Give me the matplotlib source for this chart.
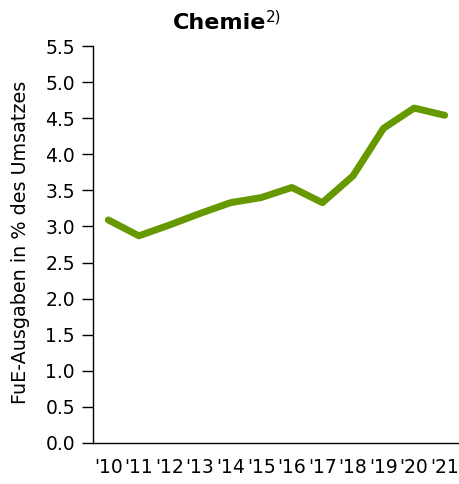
import matplotlib
matplotlib.use("Agg")
import matplotlib.pyplot as plt

years = ["'10", "'11", "'12", "'13", "'14", "'15", "'16", "'17", "'18", "'19", "'20", "'21"]
values = [3.09, 2.87, 3.02, 3.18, 3.33, 3.40, 3.54, 3.33, 3.70, 4.36, 4.64, 4.54]
yticks = [0.0, 0.5, 1.0, 1.5, 2.0, 2.5, 3.0, 3.5, 4.0, 4.5, 5.0, 5.5]

plt.rcParams['font.family'] = ['DejaVu Sans']

fig = plt.figure(figsize=(4.6, 4.84), dpi=100)
ax = fig.add_axes([93/460, 41/484, 367/460, 397/484])

x = list(range(len(years)))
ax.plot(x, values, color='#669900', linewidth=5, solid_capstyle='round', solid_joinstyle='round')

ax.set_xlim(-0.5, len(years) - 0.5)
ax.set_ylim(0, 5.5)
ax.set_yticks(yticks)
ax.set_yticklabels([f"{v:.1f}" for v in yticks], fontsize=13.5)
ax.set_xticks(x)
ax.set_xticklabels(years, fontsize=13.5)
ax.tick_params(axis='x', length=0, pad=11)
ax.tick_params(axis='y', length=8, width=1, pad=5)
for s in ['top', 'right']:
    ax.spines[s].set_visible(False)
for s in ['left', 'bottom']:
    ax.spines[s].set_linewidth(1)
ax.set_ylabel("FuE-Ausgaben in % des Umsatzes", fontsize=13.8)
ax.yaxis.label.set_verticalalignment('center')
ax.yaxis.set_label_coords((21 - 93) / 367, (484 - 242.5 - 41) / 397)

t = fig.text(219.5/460, 1 - 29/484, "Chemie", fontsize=16, fontweight='bold', ha='center', va='baseline')
ax.annotate("2)", xy=(1.0, 0.45), xycoords=t, fontsize=11, ha='left', va='bottom')

fig.savefig("out.png", dpi=100)
